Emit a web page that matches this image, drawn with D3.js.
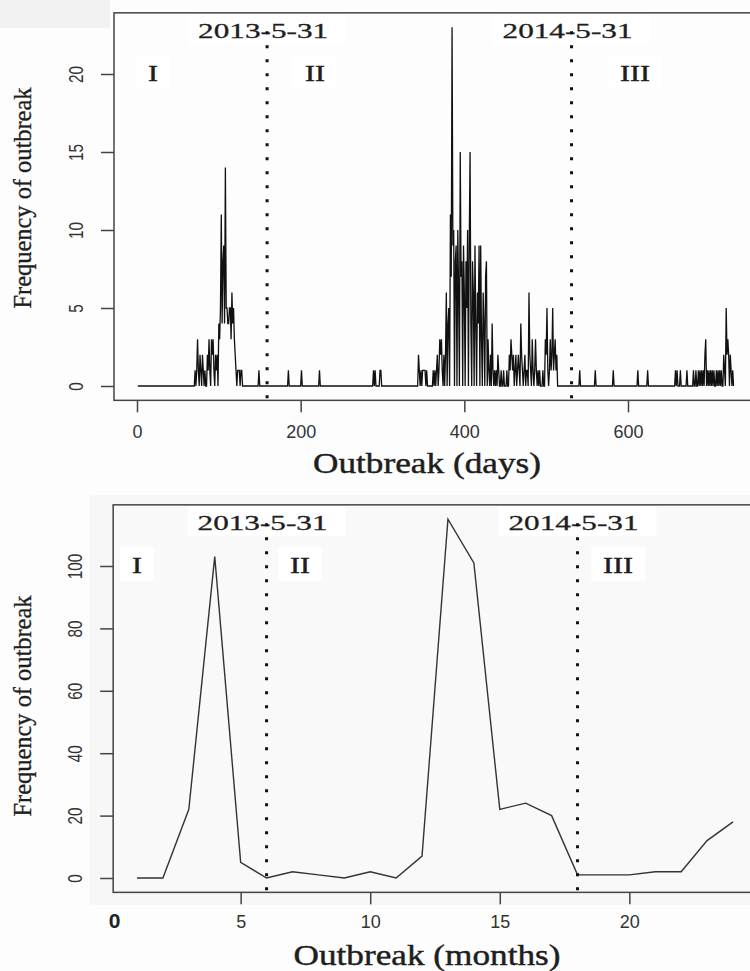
<!DOCTYPE html>
<html>
<head>
<meta charset="utf-8">
<script src="https://cdn.jsdelivr.net/npm/d3@7"></script>
<style>
  body { margin: 0; background: #fdfdfd; }
  svg { display: block; }
</style>
</head>
<body>
<div id="chart"></div>
<script>
// daily outbreaks: only the days with a non-zero count, all other days are 0
const outbreakDays = [
    71, 73, 74, 75, 77, 78, 80, 81, 83, 86, 87, 88, 89, 91, 92, 93, 94, 96, 97, 98,
    100, 101, 102, 103, 104, 105, 106, 107, 108, 109, 110, 111, 112, 113, 114, 115, 116, 117, 118, 119,
    120, 121, 123, 124, 125, 127, 128,
    149, 185, 201, 223, 289, 291, 297, 298,
    344, 345, 347, 349, 350, 351, 352, 354, 362, 364, 366, 367, 369, 370, 371, 372, 373, 375,
    377, 378, 380, 381, 383, 384, 385, 386, 387, 389, 390, 392, 393, 395, 396, 397, 399, 400,
    402, 403, 404, 406, 407, 408, 410, 411, 413, 414, 416, 417, 418, 420, 421, 423, 424, 426, 427, 429, 430,
    432, 434, 435, 437, 439, 441, 442, 445, 448, 452, 455, 456, 457, 458, 459, 460, 462, 463, 465, 466,
    467, 469, 470, 471, 473, 474, 476, 477, 479, 480, 481, 483, 484, 486, 487, 488, 490, 492, 496, 499,
    500, 501, 502, 504, 505, 506, 507, 508, 509, 510, 511, 512, 513,
    541, 560, 582, 612, 624, 658, 660, 664, 672, 680, 683, 686, 688, 690, 692, 694, 695, 697, 699, 701,
    703, 705, 708, 710, 712, 714, 717, 718, 720, 721, 722, 723, 725, 726, 728
];
const outbreakCounts = [
    1, 1, 3, 1, 2, 1, 2, 1, 1, 2, 1, 3, 1, 3, 2, 3, 1, 2, 1, 2,
    4, 3, 5, 11, 4, 8, 9, 4, 14, 5, 5, 4, 4, 5, 5, 3, 6, 4, 5, 3,
    2, 1, 1, 1, 1, 1, 1,
    1, 1, 1, 1, 1, 1, 1, 1,
    2, 1, 1, 1, 1, 1, 1, 1, 1, 1, 1, 2, 1, 3, 2, 3, 1, 2,
    2, 6, 4, 5, 11, 7, 23, 9, 10, 8, 9, 10, 6, 15, 7, 8, 9, 6,
    8, 5, 10, 9, 15, 4, 8, 6, 9, 4, 6, 4, 9, 9, 3, 6, 4, 7, 8, 3, 1,
    2, 4, 1, 1, 1, 2, 1, 1, 1, 1, 2, 1, 3, 2, 1, 2, 1, 2, 1, 2,
    1, 4, 2, 1, 1, 2, 1, 1, 6, 2, 1, 3, 1, 1, 3, 1, 1, 1, 1, 3,
    2, 5, 1, 1, 3, 1, 2, 5, 1, 2, 3, 1, 2,
    1, 1, 1, 1, 1, 1, 1, 1, 1, 1, 1, 1, 1, 1, 1, 2, 3, 1, 1, 1,
    1, 1, 1, 1, 1, 1, 2, 1, 5, 2, 3, 2, 2, 1, 1
];
const firstDay = 1;
const lastDay = 729;

// monthly outbreaks
const monthIndex = [1, 2, 3, 4, 5, 6, 7, 8, 9, 10, 11, 12, 13, 14, 15, 16, 17, 18, 19, 20, 21, 22, 23, 24];
const monthCounts = [0, 0, 22, 103, 5, 0, 2, 1, 0, 2, 0, 7, 115, 101, 22, 24, 20, 1, 1, 1, 2, 2, 12, 18];

const cutLabels = ["2013-5-31", "2014-5-31"];
const cutDays = [159, 531];
const cutMonths = [6, 18];
const phaseLabels = ["I", "II", "III"];

const dayTicks = [0, 200, 400, 600];
const dayCountTicks = [0, 5, 10, 15, 20];
const monthTicks = [0, 5, 10, 15, 20];
const monthCountTicks = [0, 20, 40, 60, 80, 100];

const W = 750, H = 971;
const serif = "'Liberation Serif', 'Times New Roman', serif";
const sans = "'Liberation Sans', Arial, sans-serif";
const ink = "#1e1e1e";

const svg = d3.select("#chart").append("svg")
    .attr("width", W)
    .attr("height", H);

svg.append("rect").attr("width", W).attr("height", H).attr("fill", "#fdfdfd");
svg.append("rect").attr("x", 0).attr("y", 0).attr("width", 110).attr("height", 28).attr("fill", "#f2f2f2");
svg.append("rect").attr("x", 90).attr("y", 495).attr("width", 660).attr("height", 410).attr("fill", "#f7f7f7");

// R style 4% padding around the data range
const pad = ([a, b]) => { const p = (b - a) * 0.04; return [a - p, b + p]; };

const serifText = (sel, size) => sel
    .attr("font-family", serif).attr("font-size", size)
    .attr("fill", ink).attr("stroke", ink).attr("stroke-width", 0.45)
    .attr("lengthAdjust", "spacingAndGlyphs");

const drawPanel = (cfg) => {
    const { x, y, xRange, yRange } = cfg;
    const left = x(xRange[0]), right = x(xRange[1]);
    const top = y(yRange[1]), bottom = y(yRange[0]);
    const g = svg.append("g");

    g.append("rect")
        .attr("x", left).attr("y", top)
        .attr("width", right - left).attr("height", bottom - top)
        .attr("fill", cfg.plotFill);

    // data
    g.append("path")
        .datum(cfg.series)
        .attr("fill", "none")
        .attr("stroke", cfg.lineColor)
        .attr("stroke-width", cfg.lineWidth)
        .attr("d", d3.line().x(d => x(d[0])).y(d => y(d[1])));

    // phase labels
    phaseLabels.forEach((lab, i) => {
        const cx = cfg.phaseX[i];
        const tw = lab.length * 10;
        g.append("rect")
            .attr("x", cx - tw / 2 - 12).attr("y", top + 42)
            .attr("width", tw + 24).attr("height", 34)
            .attr("fill", "#ffffff");
        g.append("text")
            .attr("x", cx).attr("y", top + 68)
            .attr("text-anchor", "middle")
            .call(serifText, 23)
            .attr("textLength", tw)
            .text(lab);
    });

    // cut-off dates
    cfg.cuts.forEach((c, i) => {
        const cx = x(c);
        g.append("rect")
            .attr("x", cx - 79).attr("y", top + 2)
            .attr("width", 158).attr("height", 29)
            .attr("fill", "#ffffff");
        g.append("text")
            .attr("x", cx - 4).attr("y", top + 25)
            .attr("text-anchor", "middle")
            .call(serifText, 21)
            .attr("stroke-width", 0.3)
            .attr("textLength", 130)
            .text(cutLabels[i]);
        g.append("line")
            .attr("x1", cx).attr("x2", cx)
            .attr("y1", bottom - 2).attr("y2", top + 10)
            .attr("stroke", "#111")
            .attr("stroke-width", 3)
            .attr("stroke-dasharray", "3 11");
    });

    // box
    g.append("rect")
        .attr("x", left).attr("y", top)
        .attr("width", right - left).attr("height", bottom - top)
        .attr("fill", "none")
        .attr("stroke", "#444")
        .attr("stroke-width", 1.5);

    // y axis
    const yAxis = g.append("g")
        .attr("transform", `translate(${left},0)`)
        .call(d3.axisLeft(y).tickValues(cfg.yTicks).tickSize(13).tickFormat(d3.format("d")));
    yAxis.select(".domain").remove();
    yAxis.selectAll("line").attr("stroke", "#444").attr("stroke-width", 1.5);
    yAxis.selectAll("text")
        .attr("transform", "rotate(-90)")
        .attr("x", 0).attr("y", -31).attr("dy", 0)
        .attr("text-anchor", "middle")
        .attr("font-family", sans).attr("font-size", 21)
        .attr("fill", "#333")
        .attr("lengthAdjust", "spacingAndGlyphs")
        .attr("textLength", d => String(d).length * 8.5);

    // x axis
    const xAxis = g.append("g")
        .attr("transform", `translate(0,${bottom})`)
        .call(d3.axisBottom(x).tickValues(cfg.xTicks).tickSize(12).tickFormat(d3.format("d")));
    xAxis.select(".domain").remove();
    xAxis.selectAll("line").attr("stroke", "#444").attr("stroke-width", 1.5);
    xAxis.selectAll("text")
        .attr("y", cfg.xTickY).attr("dy", 0)
        .attr("font-family", sans).attr("font-size", 18)
        .attr("fill", "#333");
    if (cfg.boldZero) {
        const zero = xAxis.selectAll(".tick").filter(d => d === 0);
        zero.select("line").remove();
        zero.select("text").attr("font-weight", "bold").attr("font-size", 21).attr("x", 3).attr("fill", "#222");
    }

    // titles
    g.append("text")
        .attr("transform", `translate(31,${cfg.yTitleY}) rotate(-90)`)
        .attr("text-anchor", "middle")
        .call(serifText, 26)
        .attr("stroke-width", 0.35)
        .attr("textLength", 221)
        .text("Frequency of outbreak");

    g.append("text")
        .attr("x", 427).attr("y", bottom + 73)
        .attr("text-anchor", "middle")
        .call(serifText, 29)
        .attr("textLength", cfg.xTitleLen)
        .text(cfg.xTitle);
};

// top panel: daily
const countByDay = new Map(outbreakDays.map((d, i) => [d, outbreakCounts[i]]));
const dailySeries = d3.range(firstDay, lastDay + 1).map(d => [d, countByDay.get(d) || 0]);

const xDay = d3.scaleLinear().domain([0, 600]).range([137, 628]);
const yDay = d3.scaleLinear().domain([0, 20]).range([386, 74]);

drawPanel({
    x: xDay, y: yDay,
    xRange: pad([firstDay, lastDay]),
    yRange: pad([0, d3.max(outbreakCounts)]),
    series: dailySeries,
    plotFill: "#fdfdfd",
    lineColor: "#111", lineWidth: 1.3,
    xTicks: dayTicks, yTicks: dayCountTicks,
    xTickY: 38,
    cuts: cutDays,
    phaseX: [153, 315, 635],
    yTitleY: 198,
    xTitle: "Outbreak (days)", xTitleLen: 228
});

// bottom panel: monthly
const monthlySeries = monthIndex.map((m, i) => [m, monthCounts[i]]);

const xMonth = d3.scaleLinear().domain([1, 24]).range([137, 733]);
const yMonth = d3.scaleLinear().domain([0, 100]).range([878, 566]);

drawPanel({
    x: xMonth, y: yMonth,
    xRange: pad(d3.extent(monthIndex)),
    yRange: pad([0, d3.max(monthCounts)]),
    series: monthlySeries,
    plotFill: "#f9f9f9",
    lineColor: "#333", lineWidth: 1.4,
    xTicks: monthTicks, yTicks: monthCountTicks,
    xTickY: 36,
    boldZero: true,
    cuts: cutMonths,
    phaseX: [137, 300, 618],
    yTitleY: 706,
    xTitle: "Outbreak (months)", xTitleLen: 267
});
</script>
</body>
</html>
